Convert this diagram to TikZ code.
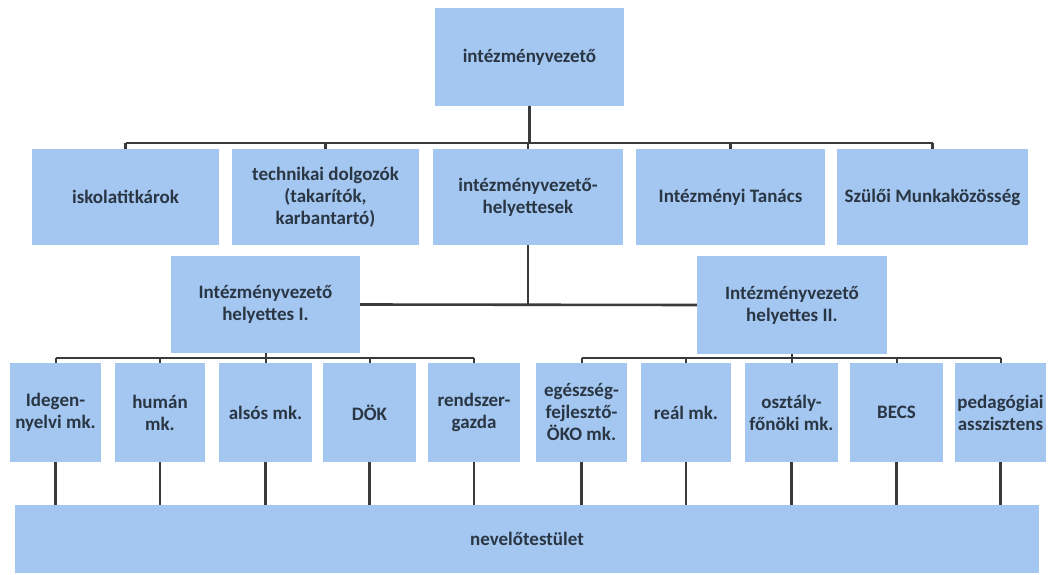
\documentclass[tikz,border=0pt]{standalone}
\usepackage{fontspec}
\setmainfont{Carlito}
\definecolor{boxblue}{HTML}{A3C7F0}
\definecolor{linegray}{HTML}{3A3A3A}
\definecolor{txt}{HTML}{2A3644}
\begin{document}
\begin{tikzpicture}[x=1pt,y=-1pt,
  box/.style={fill=boxblue,draw=none,inner sep=0pt,align=center,text=txt,font=\bfseries\fontsize{19}{22}\selectfont},
  conn/.style={draw=linegray,line width=2.6pt},
  thin/.style={draw=linegray,line width=2pt}]
\useasboundingbox (0,0) rectangle (1052,575);
\newcommand{\bx}[6]{\node[box,minimum width={#4-#2},minimum height={#5-#3}] (#1) at ({(#2+#4)/2},{(#3+#5)/2}) {#6};}
\bx{top}{435}{8}{624}{106}{intézményvezető}
\bx{isk}{32}{149}{219}{245}{iskolatitkárok}
\bx{tech}{232}{149}{419}{245}{technikai dolgozók\\(takarítók,\\karbantartó)}
\bx{hely}{433}{149}{623}{245}{intézményvezető-\\helyettesek}
\bx{tan}{636}{149}{825}{245}{Intézményi Tanács}
\bx{szul}{837}{149}{1028}{245}{Szülői Munkaközösség}
\bx{hI}{171}{256}{360}{353}{Intézményvezető\\helyettes I.}
\bx{hII}{697}{256}{887}{354}{Intézményvezető\\helyettes II.}
\bx{ide}{10}{363}{101}{462}{Idegen-\\nyelvi mk.}
\bx{hum}{115}{363}{205}{462}{humán\\mk.}
\bx{als}{219}{363}{312}{462}{alsós mk.}
\bx{dok}{323}{363}{416}{462}{DÖK}
\bx{ren}{428}{363}{520}{462}{rendszer-\\gazda}
\bx{ege}{536}{363}{627}{462}{egészség-\\fejlesztő-\\ÖKO mk.}
\bx{rea}{641}{363}{731}{462}{reál mk.}
\bx{osz}{745}{363}{838}{462}{osztály-\\főnöki mk.}
\bx{becs}{850}{363}{943}{462}{BECS}
\bx{ped}{955}{363}{1046}{462}{pedagógiai\\asszisztens}
\bx{nev}{15}{505}{1039}{573}{nevelőtestület}
% top level
\coordinate (busA) at (0,143);
\draw[conn] (top.south) -- (top.south |- busA);
\draw[conn] (isk.north |- busA) -- (szul.north |- busA);
\foreach \n in {isk,tech,hely,tan,szul}{\draw[conn] (\n.north) -- (\n.north |- busA);}
% helyettesek
\draw[conn] (hely.south) -- (hely.south |- hI.east);
\draw[conn] (hI.east) -- (hII.west);
% branch I
\coordinate (busB) at (0,358);
\draw[thin] (hI.south) -- (hI.south |- busB);
\draw[thin] (ide.north |- busB) -- (ren.north |- busB);
\foreach \n in {ide,hum,als,dok,ren}{\draw[thin] (\n.north) -- (\n.north |- busB);}
% branch II
\draw[thin] (hII.south) -- (hII.south |- busB);
\draw[thin] (ege.north |- busB) -- (ped.north |- busB);
\foreach \n in {ege,rea,osz,becs,ped}{\draw[thin] (\n.north) -- (\n.north |- busB);}
% to nevelotestulet
\foreach \n in {ide,hum,als,dok,ren,ege,rea,osz,becs,ped}{\draw[conn] (\n.south) -- (\n.south |- nev.north);}
\end{tikzpicture}
\end{document}
